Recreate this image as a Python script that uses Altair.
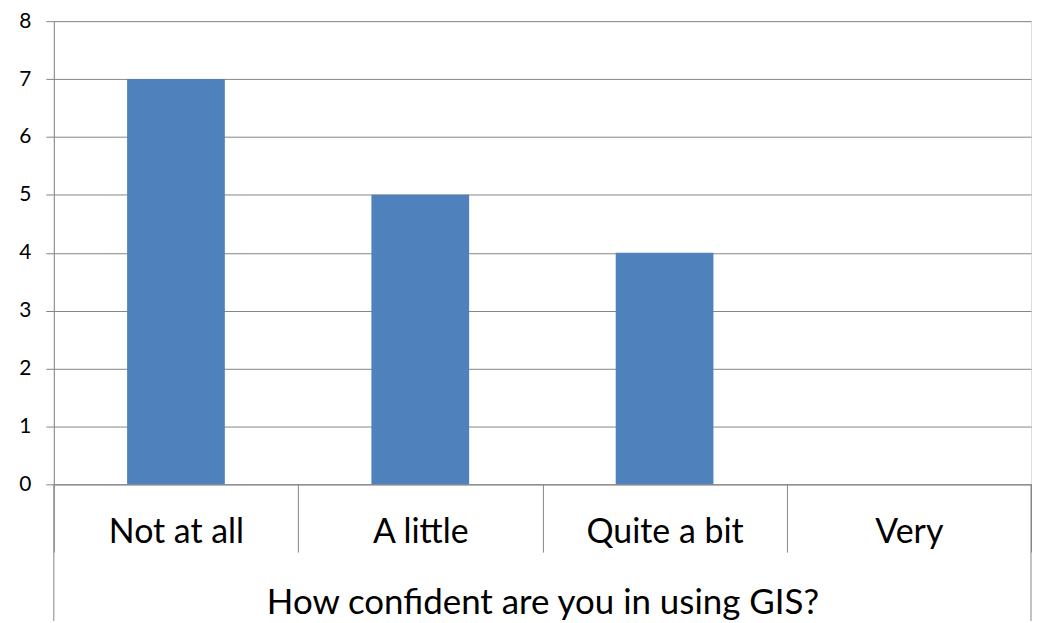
import altair as alt
import pandas as pd

categories = ["Not at all", "A little", "Quite a bit", "Very"]
counts = [7, 5, 4, 0]

df = pd.DataFrame({"category": categories, "count": counts})

W, H = 981, 465
GRAY = "#868686"
FONT = "Lato"

x_enc = alt.X(
    "category:N",
    sort=categories,
    scale=alt.Scale(paddingInner=0, paddingOuter=0),
    axis=alt.Axis(
        title="How confident are you in using GIS?",
        tickBand="extent",
        tickSize=68,
        tickColor=GRAY,
        tickWidth=1,
        domainColor=GRAY,
        domainWidth=1,
        labelAngle=0,
        labelFont=FONT,
        labelFontSize=34,
        labelColor="black",
        labelPadding=-37,
        titleFont=FONT,
        titleFontSize=35,
        titleFontWeight="normal",
        titleColor="black",
        titlePadding=33,
    ),
)

y_enc = alt.Y(
    "count:Q",
    scale=alt.Scale(domain=[0, 8], nice=False),
    axis=alt.Axis(
        title=None,
        values=[0, 1, 2, 3, 4, 5, 6, 7, 8],
        grid=True,
        gridColor=GRAY,
        gridWidth=1,
        tickColor=GRAY,
        tickSize=8,
        domainColor=GRAY,
        labelFont=FONT,
        labelFontSize=21,
        labelColor="black",
        labelPadding=15,
    ),
)

bars = alt.Chart(df).mark_bar(
    color="#4F81BD", width=alt.RelativeBandSize(0.4)
).encode(x=x_enc, y=y_enc)

edge_df = pd.DataFrame({"edge": [0]})
left_line = alt.Chart(edge_df).mark_rule(color=GRAY, strokeWidth=1).encode(
    x=alt.value(0), y=alt.value(H), y2=alt.value(H + 140)
)
right_line = alt.Chart(edge_df).mark_rule(color=GRAY, strokeWidth=1).encode(
    x=alt.value(W), y=alt.value(H), y2=alt.value(H + 140)
)

chart = (
    alt.layer(bars, left_line, right_line)
    .properties(
        width=W,
        height=H,
        autosize=alt.AutoSizeParams(type="none"),
        padding={"left": 46, "top": 12, "right": 2, "bottom": 136},
    )
    .configure_view(stroke=None)
    .configure(background="white")
)

chart.save("out.html", embed_options={"renderer": "svg", "actions": False})
